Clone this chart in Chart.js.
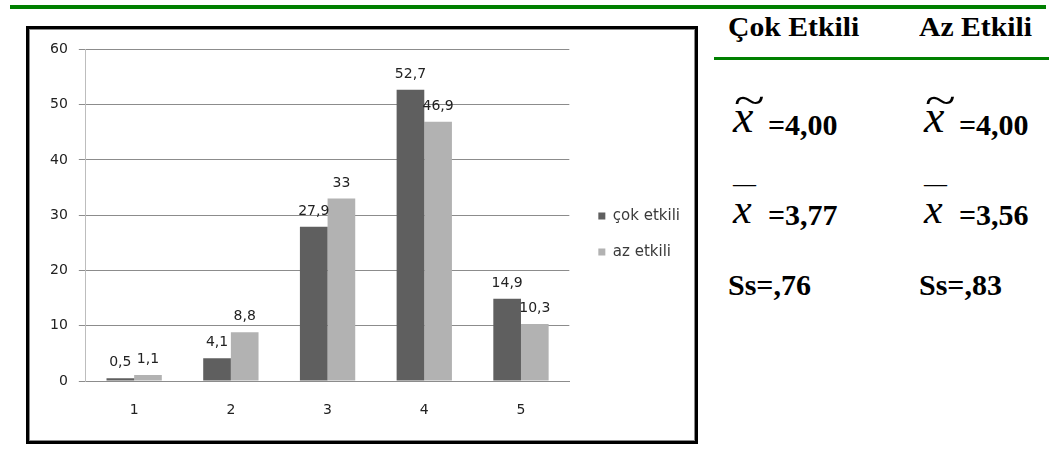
<!DOCTYPE html>
<html lang="tr">
<head>
<meta charset="UTF-8">
<title>Çok etkili / az etkili</title>
<script src="https://cdn.jsdelivr.net/npm/chart.js"></script>
<style>
  body { margin: 0; width: 1049px; height: 456px; background: #fff; position: relative; overflow: hidden; }
  .green { position: absolute; background: #008000; }
  #box { position: absolute; left: 26px; top: 26px; width: 666px; height: 412px;
         border: 3px solid #000; box-shadow: inset 0 0 0 1px #8a8a8a; }
  #wrap { position: absolute; left: 30px; top: 30px; width: 664px; height: 410px; }
  .st { position: absolute; font-family: "Liberation Serif", "Times New Roman", serif;
        font-weight: bold; line-height: 1; white-space: nowrap; color: #000; }
  .it { font-weight: normal; font-style: italic; }
</style>
</head>
<body>
<div class="green" style="left:10px; top:5px; width:1036px; height:4px"></div>
<div class="green" style="left:714px; top:57px; width:335px; height:3px"></div>
<div id="box"></div>
<div id="wrap"><canvas id="myChart"></canvas></div>
<div id="stats"></div>

<script>
// kategoriler ve seriler
const labels = ['1', '2', '3', '4', '5'];
const cokEtkili = [0.5, 4.1, 27.9, 52.7, 14.9];
const azEtkili = [1.1, 8.8, 33, 46.9, 10.3];
const seriesNames = ['çok etkili', 'az etkili'];

// sağdaki istatistik tablosu
const headers = ['Çok Etkili', 'Az Etkili'];
const medyan = ['4,00', '4,00'];
const ortalama = ['3,77', '3,56'];
const sapma = [',76', ',83'];

const colX = [728, 919];

function put(text, x, y, size, cls, extra) {
    const el = document.createElement('div');
    el.className = 'st' + (cls ? ' ' + cls : '');
    el.textContent = text;
    el.style.left = x + 'px';
    el.style.top = y + 'px';
    el.style.fontSize = size + 'px';
    if (extra) Object.assign(el.style, extra);
    document.getElementById('stats').appendChild(el);
}

headers.forEach((h, i) => {
    const x = colX[i];
    put(h, x, 14, 27, '', { transform: 'scaleX(1.1)', transformOrigin: 'left' });
    // medyan: x dalga
    put('~', x + 6, 79, 42, '', { fontWeight: 'normal', transform: 'scaleX(1.35)', transformOrigin: 'left' });
    put('x', x + 5, 94, 46, 'it');
    put('=' + medyan[i], x + 40, 110, 30);
    // ortalama: x çizgi
    put('—', x + 5, 172, 23, '', { fontWeight: 'normal' });
    put('x', x + 5, 188, 42, 'it');
    put('=' + ortalama[i], x + 40, 200, 30);
    put('Ss=' + sapma[i], x, 270, 30);
});

// çubukların üstüne değer yazan eklenti
const valueLabels = {
    id: 'valueLabels',
    afterDatasetsDraw(chart) {
        const ctx = chart.ctx;
        ctx.save();
        ctx.font = '14px "DejaVu Sans"';
        ctx.fillStyle = '#222';
        ctx.textAlign = 'center';
        ctx.textBaseline = 'alphabetic';
        chart.data.datasets.forEach((ds, i) => {
            chart.getDatasetMeta(i).data.forEach((bar, j) => {
                ctx.fillText(String(ds.data[j]).replace('.', ','), bar.x, bar.y - 12);
            });
        });
        ctx.restore();
    }
};

Chart.defaults.font.family = '"DejaVu Sans"';
Chart.defaults.font.size = 14;
Chart.defaults.color = '#222';

const data = {
    labels: labels,
    datasets: [
        { label: seriesNames[0], data: cokEtkili, backgroundColor: '#5f5f5f' },
        { label: seriesNames[1], data: azEtkili, backgroundColor: '#b2b2b2' }
    ]
};

const config = {
    type: 'bar',
    data: data,
    plugins: [valueLabels],
    options: {
        responsive: true,
        maintainAspectRatio: false,
        animation: false,
        categoryPercentage: 0.572,
        barPercentage: 1.0,
        layout: { padding: { left: 9, top: 19, bottom: 21, right: 9 } },
        plugins: {
            legend: {
                position: 'right',
                labels: { boxWidth: 7, boxHeight: 7, padding: 21, color: '#3a3a3a', font: { size: 15 } }
            },
            tooltip: { enabled: false }
        },
        scales: {
            x: {
                grid: { display: false, drawTicks: false },
                border: { color: '#8c8c8c' },
                ticks: { padding: 21 },
                afterFit(scale) { scale.height = 38; }
            },
            y: {
                min: 0,
                max: 60,
                ticks: { stepSize: 10, padding: 11 },
                grid: { color: '#8c8c8c', tickLength: 7 },
                border: { color: '#bdbdbd' }
            },
            // boşluk: alanla gösterge arası
            gap: {
                type: 'linear',
                position: 'right',
                grid: { display: false, drawTicks: false },
                border: { display: false },
                ticks: { display: false },
                afterFit(scale) { scale.width = 8; }
            }
        }
    }
};

new Chart(document.getElementById('myChart').getContext('2d'), config);
</script>
</body>
</html>
